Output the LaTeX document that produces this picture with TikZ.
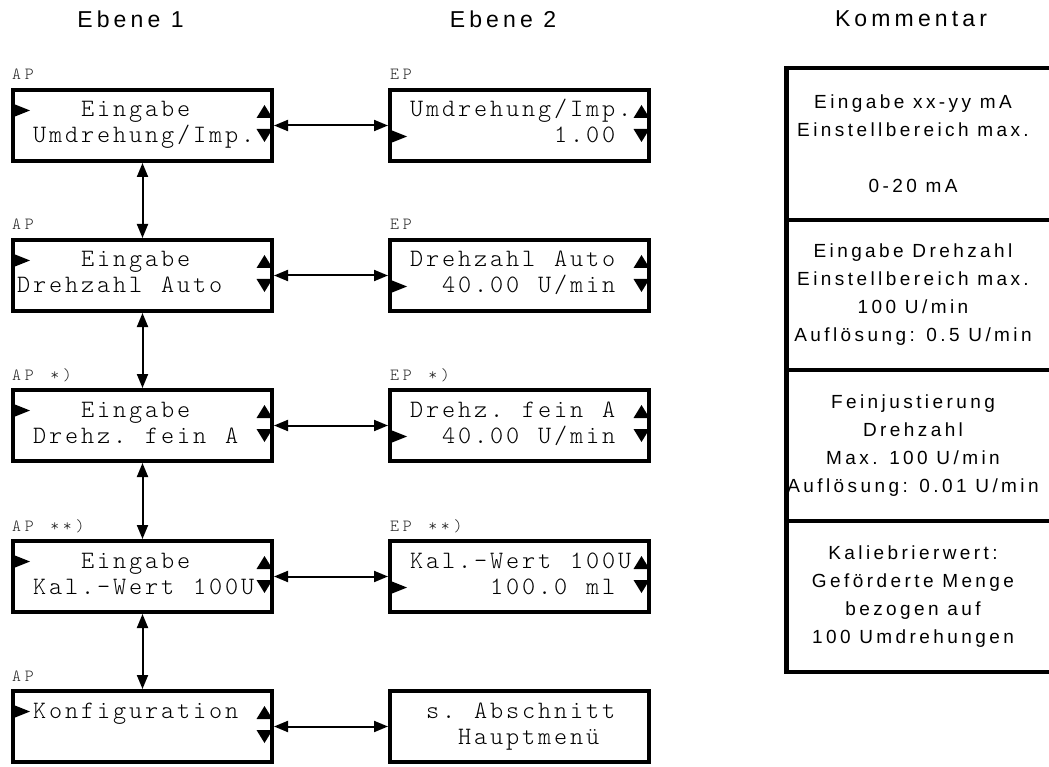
\documentclass[tikz,border=0pt]{standalone}
\usepackage{fontspec}
\setmainfont{Liberation Sans}
\newfontfamily\hdrfont{Liberation Sans}[LetterSpace=18]
\newfontfamily\cmtfont{Liberation Sans}[LetterSpace=18]
\newfontfamily\lcdfont{lmmonolt10-regular.otf}[LetterSpace=11.5]
\newfontfamily\lblfont{lmmonolt10-regular.otf}[LetterSpace=22]
\usetikzlibrary{arrows.meta}
\newcounter{tn}
\tikzset{
  lcd/.style={draw, line width=4pt, minimum width=259pt, minimum height=71pt, inner sep=0pt},
  conn/.style={line width=2pt, {Triangle[length=14pt,width=11pt]}-{Triangle[length=14pt,width=11pt]}},
  lcdtxt/.style={font=\lcdfont\fontsize{25}{25}\selectfont, inner sep=0pt, anchor=base west, text=black},
  lblsty/.style={font=\lblfont\fontsize{17}{17}\selectfont, inner sep=0pt, anchor=base west, text=black!85},
  hdr/.style={font=\hdrfont\fontsize{23}{23}\selectfont, inner sep=0pt},
  cmt/.style={font=\cmtfont\fontsize{19}{28}\selectfont, align=center, inner sep=0pt},
  cmtline/.style={line width=4pt},
}
% word in LCD box: xl, yt, line, char index, text
\newcommand\lcdw[5]{\stepcounter{tn}\node[lcdtxt] (w\arabic{tn}) at ({#1+6+16*#4},{#2+3+26*#3}) {#5};}
% label above box: x, baseline, char index, text
\newcommand\lblw[4]{\stepcounter{tn}\node[lblsty] (w\arabic{tn}) at ({#1+12.7*#3},{#2}) {#4};}
\newcommand\triright[3]{\fill ({#1+4},{#2+3+26*#3-12.5}) -- ({#1+19},{#2+3+26*#3-6.5}) -- ({#1+4},{#2+3+26*#3-0.5}) -- cycle;}
\newcommand\triup[2]{\fill ({#1+245.5},{#2+30}) -- ({#1+253.5},{#2+17}) -- ({#1+261.5},{#2+30}) -- cycle;}
\newcommand\tridown[2]{\fill ({#1+245.5},{#2+41}) -- ({#1+261.5},{#2+41}) -- ({#1+253.5},{#2+54}) -- cycle;}
\begin{document}
\begin{tikzpicture}[x=1pt,y=-1pt]
\useasboundingbox (0,0) rectangle (1049,767);
% headers
\node[hdr] (H1) at (130.5,19) {Ebene 1};
\node[hdr] (H2) at (503,19) {Ebene 2};
\node[hdr] (H3) at (911,19) {Kommentar};
% boxes
\node[lcd] (L1) at (142.5,125.5) {};
\node[lcd] (R1) at (519.5,125.5) {};
\node[lcd] (L2) at (142.5,275.5) {};
\node[lcd] (R2) at (519.5,275.5) {};
\node[lcd] (L3) at (142.5,425.5) {};
\node[lcd] (R3) at (519.5,425.5) {};
\node[lcd] (L4) at (142.5,576.5) {};
\node[lcd] (R4) at (519.5,576.5) {};
\node[lcd] (L5) at (142.5,726.5) {};
\node[lcd] (R5) at (519.5,726.5) {};
% row 1
\lblw{12}{80}{0}{AP}
\lblw{390}{80}{0}{EP}
\triright{11}{88}{1}
\lcdw{11}{88}{1}{4}{Eingabe}
\lcdw{11}{88}{2}{1}{Umdrehung/Imp.}
\triup{11}{88}\tridown{11}{88}
\lcdw{388}{88}{1}{1}{Umdrehung/Imp.}
\triright{388}{88}{2}
\lcdw{388}{88}{2}{10}{1.00}
\triup{388}{88}\tridown{388}{88}
% row 2
\lblw{12}{230}{0}{AP}
\lblw{390}{230}{0}{EP}
\triright{11}{238}{1}
\lcdw{11}{238}{1}{4}{Eingabe}
\lcdw{11}{238}{2}{0}{Drehzahl}
\lcdw{11}{238}{2}{9}{Auto}
\triup{11}{238}\tridown{11}{238}
\lcdw{388}{238}{1}{1}{Drehzahl}
\lcdw{388}{238}{1}{10}{Auto}
\triright{388}{238}{2}
\lcdw{388}{238}{2}{3}{40.00}
\lcdw{388}{238}{2}{9}{U/min}
\triup{388}{238}\tridown{388}{238}
% row 3
\lblw{12}{380}{0}{AP}
\lblw{12}{380}{3}{*)}
\lblw{390}{380}{0}{EP}
\lblw{390}{380}{3}{*)}
\triright{11}{388}{1}
\lcdw{11}{388}{1}{4}{Eingabe}
\lcdw{11}{388}{2}{1}{Drehz.}
\lcdw{11}{388}{2}{8}{fein}
\lcdw{11}{388}{2}{13}{A}
\triup{11}{388}\tridown{11}{388}
\lcdw{388}{388}{1}{1}{Drehz.}
\lcdw{388}{388}{1}{8}{fein}
\lcdw{388}{388}{1}{13}{A}
\triright{388}{388}{2}
\lcdw{388}{388}{2}{3}{40.00}
\lcdw{388}{388}{2}{9}{U/min}
\triup{388}{388}\tridown{388}{388}
% row 4
\lblw{12}{531}{0}{AP}
\lblw{12}{531}{3}{**)}
\lblw{390}{531}{0}{EP}
\lblw{390}{531}{3}{**)}
\triright{11}{539}{1}
\lcdw{11}{539}{1}{4}{Eingabe}
\lcdw{11}{539}{2}{1}{Kal.-Wert}
\lcdw{11}{539}{2}{11}{100U}
\triup{11}{539}\tridown{11}{539}
\lcdw{388}{539}{1}{1}{Kal.-Wert}
\lcdw{388}{539}{1}{11}{100U}
\triright{388}{539}{2}
\lcdw{388}{539}{2}{6}{100.0}
\lcdw{388}{539}{2}{12}{ml}
\triup{388}{539}\tridown{388}{539}
% row 5
\lblw{12}{681}{0}{AP}
\triright{11}{689}{1}
\lcdw{11}{689}{1}{1}{Konfiguration}
\triup{11}{689}\tridown{11}{689}
\lcdw{388}{689}{1}{2}{s.}
\lcdw{388}{689}{1}{5}{Abschnitt}
\lcdw{388}{689}{2}{4}{Hauptmenü}
% connectors
\draw[conn] (L1.east) -- (R1.west);
\draw[conn] (L2.east) -- (R2.west);
\draw[conn] (L3.east) -- (R3.west);
\draw[conn] (L4.east) -- (R4.west);
\draw[conn] (L5.east) -- (R5.west);
\draw[conn] (L1.south) -- (L2.north);
\draw[conn] (L2.south) -- (L3.north);
\draw[conn] (L3.south) -- (L4.north);
\draw[conn] (L4.south) -- (L5.north);
% comment column
\draw[cmtline] (1049,68) -- (786,68) -- (786,672) -- (1049,672);
\draw[line width=5pt] (786,66) -- (786,674);
\draw[cmtline] (786,220) -- (1049,220);
\draw[cmtline] (786,370) -- (1049,370);
\draw[cmtline] (786,521) -- (1049,521);
\node[cmt] (C1) at (913,144) {Eingabe xx-yy mA\\Einstellbereich max.\\\mbox{}\\0-20 mA};
\node[cmt] (C2) at (913,295) {Eingabe Drehzahl\\Einstellbereich max.\\100 U/min\\Auflösung: 0.5 U/min};
\node[cmt] (C3) at (913,446) {Feinjustierung\\Drehzahl\\Max. 100 U/min\\Auflösung: 0.01 U/min};
\node[cmt] (C4) at (913,597) {Kaliebrierwert:\\Geförderte Menge\\bezogen auf\\100 Umdrehungen};
\end{tikzpicture}
\end{document}
